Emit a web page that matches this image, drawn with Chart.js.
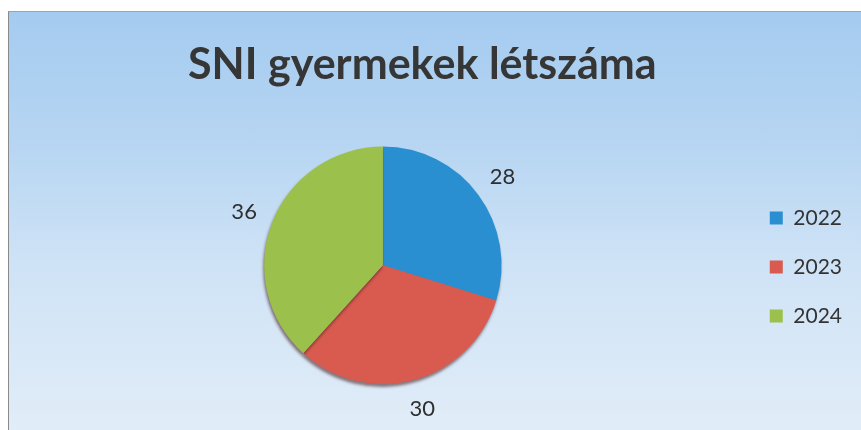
<!DOCTYPE html>
<html>
<head>
<meta charset="utf-8">
<script src="https://cdn.jsdelivr.net/npm/chart.js@4"></script>
<style>
  html, body { margin: 0; padding: 0; background: #fff; width: 861px; height: 430px; overflow: hidden; }
  #box {
    position: absolute; left: 8px; top: 11px; width: 860px; height: 425px;
    border-left: 1px solid #8a8a8a; border-top: 1px solid #b49a9e;
    background: linear-gradient(to bottom, #a4cbf0 0%, #b6d5f2 30%, #cfe3f6 60%, #e2edf8 100%);
  }
  #chart { position: absolute; left: 0; top: 0; }
</style>
</head>
<body>
<div id="box"></div>
<canvas id="chart" width="861" height="430"></canvas>
<script>
// --- DATOS ---
const categorias = ['2022', '2023', '2024'];
const valores = [28, 30, 36];
const colores = ['#2a8fd0', '#d95b50', '#9cc04c'];

// etiquetas fuera del pastel
const etiquetasFuera = {
  id: 'etiquetasFuera',
  afterDatasetsDraw(chart) {
    const ctx = chart.ctx;
    const meta = chart.getDatasetMeta(0);
    ctx.save();
    ctx.font = '22px Lato';
    ctx.fillStyle = '#2e2e2e';
    ctx.textAlign = 'center';
    ctx.textBaseline = 'middle';
    meta.data.forEach((arc, i) => {
      const p = arc.getProps(['x', 'y', 'startAngle', 'endAngle', 'outerRadius'], true);
      const mid = (p.startAngle + p.endAngle) / 2;
      const r = p.outerRadius + 30;
      ctx.fillText(valores[i], p.x + Math.cos(mid) * r, p.y + Math.sin(mid) * r);
    });
    ctx.restore();
  }
};

// sombra suave debajo del pastel
const sombra = {
  id: 'sombra',
  beforeDatasetsDraw(chart) {
    const ctx = chart.ctx;
    ctx.save();
    ctx.shadowColor = 'rgba(60,20,20,0.55)';
    ctx.shadowBlur = 3;
    ctx.shadowOffsetX = -1;
    ctx.shadowOffsetY = 3;
  },
  afterDatasetsDraw(chart) {
    chart.ctx.restore();
  }
};

const ctx = document.getElementById('chart').getContext('2d');
const chart = new Chart(ctx, {
  type: 'pie',
  data: {
    labels: categorias,
    datasets: [{
      data: valores,
      backgroundColor: colores,
      borderWidth: 0
    }]
  },
  options: {
    responsive: false,
    animation: false,
    layout: { padding: { left: 24, right: 9, top: 0, bottom: 46 } },
    plugins: {
      tooltip: { enabled: false },
      title: {
        display: true,
        // espacios al final para correr el título un poco a la izquierda
        text: 'SNI gyermekek létszáma\u00a0\u00a0\u00a0',
        color: '#363636',
        font: { family: 'Lato', size: 43, weight: 'bold' },
        padding: { top: 39, bottom: 56 }
      },
      legend: {
        position: 'right',
        title: {
          display: true,
          text: ' ',
          font: { size: 10 },
          padding: { top: 138, bottom: 0 }
        },
        labels: {
          color: '#333',
          font: { family: 'Lato', size: 21 },
          boxWidth: 13,
          boxHeight: 13,
          padding: 28
        }
      }
    }
  },
  plugins: [sombra, etiquetasFuera]
});
</script>
</body>
</html>
